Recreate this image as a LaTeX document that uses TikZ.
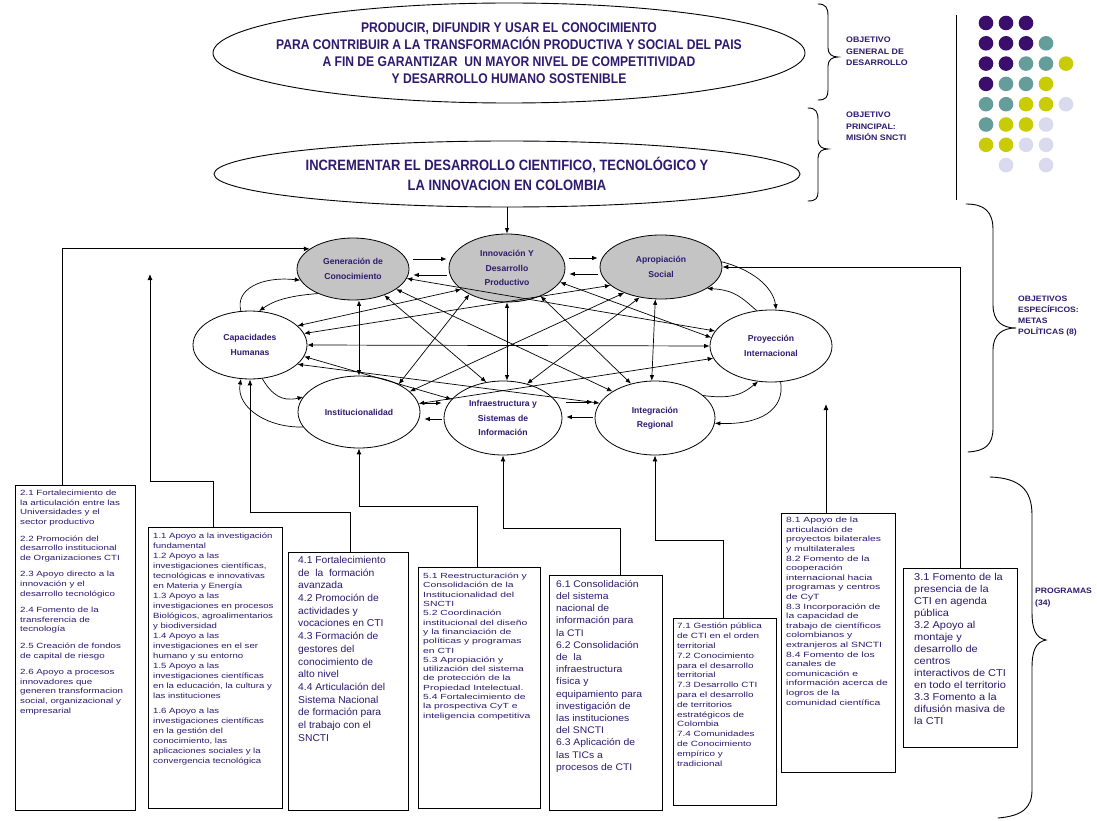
\documentclass[tikz,border=0pt]{standalone}
\usepackage{fontspec}
\setmainfont{Liberation Sans}
\newfontfamily\goalfont[FakeStretch=0.865]{Liberation Sans}
\usetikzlibrary{shapes.geometric,arrows.meta,calc,backgrounds}
\definecolor{ink}{HTML}{2E1A6E}
\definecolor{nodegrey}{HTML}{C4C4C4}
\definecolor{arrowgrey}{HTML}{B5B5B5}
\definecolor{dotpurple}{HTML}{3A0E6A}
\definecolor{dotteal}{HTML}{659D9B}
\definecolor{dotyellow}{HTML}{C9CB04}
\definecolor{dotlav}{HTML}{DADAEE}
% size, leading, horizontal stretch of a programme list
\newcommand{\progfont}[3]{\fontsize{#1}{#2}\selectfont\addfontfeatures{FakeStretch=#3}}
% grey block arrows: x, tip y, base y
\newcommand{\upblock}[3]{\draw[blockarrow] (#1-7,#3) -- (#1-7,#2+13) -- (#1-12,#2+13) -- (#1,#2) -- (#1+12,#2+13) -- (#1+7,#2+13) -- (#1+7,#3) -- cycle;}
\newcommand{\downblock}[3]{\draw[blockarrow] (#1-7,#3) -- (#1-7,#2-13) -- (#1-12,#2-13) -- (#1,#2) -- (#1+12,#2-13) -- (#1+7,#2-13) -- (#1+7,#3) -- cycle;}
\begin{document}
\begin{tikzpicture}[x=1pt,y=-1pt,
  goal/.style={ellipse, draw, line width=0.9pt, fill=white, inner sep=0pt},
  goaltext/.style={text=ink, align=center, inner sep=0pt, font=\goalfont\bfseries\fontsize{14}{16.8}\selectfont},
  area/.style={ellipse, draw, line width=0.8pt, fill=white, inner sep=0pt},
  core/.style={area, fill=nodegrey},
  areatext/.style={text=ink, align=center, inner sep=0pt, font=\bfseries\fontsize{8.6}{14.3}\selectfont},
  prog/.style={draw, line width=1.1pt, fill=white, anchor=north west, inner sep=0pt},
  progtext/.style={anchor=north west, text=ink, align=left, inner sep=0pt},
  tip/.style={-{Latex[length=5.5pt,width=4.5pt]}, line width=0.7pt},
  both/.style={{Latex[length=5.5pt,width=4.5pt]}-{Latex[length=5.5pt,width=4.5pt]}, line width=0.7pt},
  feed/.style={-{Latex[length=6pt,width=5pt]}, line width=0.9pt},
  tag/.style={anchor=north west, text=ink, align=left, inner sep=0pt, font=\bfseries\fontsize{8}{11.3}\selectfont\addfontfeatures{FakeStretch=1.1}},
  blob/.style={circle, inner sep=0pt, minimum size=14.6pt},
  blockarrow/.style={fill=arrowgrey, draw=black!80, line width=0.7pt},
  brace/.style={line width=0.9pt, line cap=round}]

\fill[white] (0,0) rectangle (1097,821);
\useasboundingbox (0,0) rectangle (1097,821);

% ---------- goals ----------
\node[goal, minimum width=592pt, minimum height=100pt] (goal1) at (509,53) {};
\node[goaltext] at (goal1) {PRODUCIR, DIFUNDIR Y USAR EL CONOCIMIENTO\\
PARA CONTRIBUIR A LA TRANSFORMACIÓN PRODUCTIVA Y SOCIAL DEL PAIS\\
A FIN DE GARANTIZAR\ \ UN MAYOR NIVEL DE COMPETITIVIDAD\\
Y DESARROLLO HUMANO SOSTENIBLE};
\node[goal, minimum width=586pt, minimum height=66pt] (goal2) at (507,174) {};
\node[goaltext, font=\goalfont\bfseries\fontsize{15}{20.5}\selectfont] at (goal2) {INCREMENTAR EL DESARROLLO CIENTIFICO, TECNOLÓGICO Y\\
LA INNOVACION EN COLOMBIA};

% ---------- the eight policy areas ----------
\node[core, minimum width=112pt, minimum height=62pt] (gen) at (353,269) {};
\node[areatext] at (gen) {Generación de\\Conocimiento};
\node[core, minimum width=116pt, minimum height=68pt] (inn) at (507,268) {};
\node[areatext] at (inn) {Innovación Y\\Desarrollo\\Productivo};
\node[core, minimum width=122pt, minimum height=64pt] (apr) at (661,267) {};
\node[areatext] at (apr) {Apropiación\\Social};
\node[area, minimum width=114pt, minimum height=68pt] (cap) at (250,345) {};
\node[areatext] at (cap) {Capacidades\\Humanas};
\node[area, minimum width=122pt, minimum height=72pt] (proy) at (771,346) {};
\node[areatext] at (proy) {Proyección\\Internacional};
\node[area, minimum width=122pt, minimum height=72pt] (inst) at (359,412) {};
\node[areatext] at (inst) {Institucionalidad};
\node[area, minimum width=118pt, minimum height=74pt] (infra) at (503,418) {};
\node[areatext] at (infra) {Infraestructura y\\Sistemas de\\Información};
\node[area, minimum width=120pt, minimum height=74pt] (int) at (655,418) {};
\node[areatext] at (int) {Integración\\Regional};

% ---------- block arrows between the goals ----------
\begin{scope}[on background layer]
  \upblock{457}{103}{150}
  \downblock{543}{141}{96}
  \upblock{457}{207}{262}
  \downblock{543}{240}{200}
\end{scope}
\draw[tip] (goal2.south) -- (inn.north);

% ---------- neighbour pairs ----------
\draw[tip, shorten <=4pt, shorten >=2pt] (gen.east |- 0,259) -- (inn.west |- 0,259);
\draw[tip, shorten <=2pt, shorten >=4pt] (inn.west |- 0,275) -- (gen.east |- 0,275);
\draw[tip, shorten <=4pt, shorten >=2pt] (inn.east |- 0,258) -- (apr.west |- 0,258);
\draw[tip, shorten <=2pt, shorten >=4pt] (apr.west |- 0,274) -- (inn.east |- 0,274);
\draw[tip, shorten <=4pt, shorten >=2pt] (inst.east |- 0,403) -- (infra.west |- 0,403);
\draw[tip, shorten <=2pt, shorten >=4pt] (infra.west |- 0,419) -- (inst.east |- 0,419);
\draw[tip, shorten <=4pt, shorten >=2pt] (infra.east |- 0,402) -- (int.west |- 0,402);
\draw[tip, shorten <=2pt, shorten >=4pt] (int.west |- 0,417) -- (infra.east |- 0,417);

% side loops
\draw[tip] (cap.105) .. controls (235,290) and (260,276) .. (gen.192);
\draw[tip] (gen.215) .. controls (285,296) and (272,302) .. (cap.75);
\draw[tip] (cap.-70) .. controls (272,395) and (282,402) .. (inst.165);
\draw[tip] (inst.195) .. controls (268,428) and (236,408) .. (cap.-105);
\draw[tip] (apr.5) .. controls (760,272) and (774,292) .. (proy.82);
\draw[tip] (proy.112) .. controls (742,298) and (735,290) .. (apr.-25);
\draw[tip] (int.25) .. controls (735,400) and (745,392) .. (proy.-110);
\draw[tip] (proy.-75) .. controls (785,410) and (760,425) .. (int.-5);

% cross links
\draw[both] (cap.22) -- (inn.205);
\draw[both] (cap.12) -- (apr.200);
\draw[both] (cap.east) -- (proy.west);
\draw[both] (cap.-12) -- (infra.160);
\draw[both] (cap.-22) -- (int.165);
\draw[both] (inst.north |- gen.south) -- (inst.north);
\draw[both] (gen.-40) -- (infra.115);
\draw[both] (gen.-25) -- (int.148);
\draw[both] (gen.-10) -- (proy.165);
\draw[both] (inn.-145) -- (inst.35);
\draw[both] (inn.south) -- (infra.north -| inn.south);
\draw[both] (inn.-40) -- (int.125);
\draw[both] (inn.-15) -- (proy.172);
\draw[both] (apr.-145) -- (inst.22);
\draw[both] (apr.-125) -- (infra.55);
\draw[both] (apr.-100) -- (int.95);
\draw[both] (inst.8) -- (proy.192);

% ---------- programme boxes ----------
\node[prog, minimum width=120pt, minimum height=325pt] (b2) at (15,485) {};
\node[progtext, font=\progfont{7.5}{9.6}{1.3}] at (20,490) {2.1 Fortalecimiento de\\la articulación entre las\\Universidades y el\\sector productivo\\[7pt]
2.2 Promoción del\\desarrollo institucional\\de Organizaciones CTI\\[7pt]
2.3 Apoyo directo a la\\innovación y el\\desarrollo tecnológico\\[7pt]
2.4 Fomento de la\\transferencia de\\tecnología\\[7pt]
2.5 Creación de fondos\\de capital de riesgo\\[7pt]
2.6 Apoyo a procesos\\innovadores que\\generen transformacion\\social, organizacional y\\empresarial};

\node[prog, minimum width=134pt, minimum height=281pt] (b1) at (148,527) {};
\node[progtext, font=\progfont{7.6}{10}{1.26}] at (153,533) {1.1 Apoyo a la investigación\\fundamental\\1.2 Apoyo a las\\investigaciones científicas,\\tecnológicas e innovativas\\en Materia y Energía\\
1.3 Apoyo a las\\investigaciones en procesos\\Biológicos, agroalimentarios\\y biodiversidad\\1.4 Apoyo a las\\investigaciones en el ser\\humano y su entorno\\
1.5 Apoyo a las\\investigaciones científicas\\en la educación, la cultura y\\las instituciones\\[5pt]
1.6 Apoyo a las\\investigaciones científicas\\en la gestión del\\conocimiento, las\\aplicaciones sociales y la\\convergencia tecnológica};

\node[prog, minimum width=120pt, minimum height=258pt] (b4) at (288,552) {};
\node[progtext, font=\progfont{10}{12.7}{1.03}] at (298,556) {4.1 Fortalecimiento\\de\ \ la\ \ formación\\avanzada\\4.2 Promoción de\\actividades y\\vocaciones en CTI\\
4.3 Formación de\\gestores del\\conocimiento de\\alto nivel\\4.4 Articulación del\\Sistema Nacional\\de formación para\\el trabajo con el\\SNCTI};

\node[prog, minimum width=122pt, minimum height=241pt] (b5) at (418,567) {};
\node[progtext, font=\progfont{7.4}{9.3}{1.4}] at (423,573) {5.1 Reestructuración y\\Consolidación de la\\Institucionalidad del\\SNCTI\\5.2 Coordinación\\institucional del diseño\\y la financiación de\\
políticas y programas\\en CTI\\5.3 Apropiación y\\utilización del sistema\\de protección de la\\Propiedad Intelectual.\\5.4 Fortalecimiento de\\la prospectiva CyT e\\inteligencia competitiva};

\node[prog, minimum width=113pt, minimum height=235pt] (b6) at (549,575) {};
\node[progtext, font=\progfont{9.6}{12.2}{1.08}] at (556,580) {6.1 Consolidación\\del sistema\\nacional de\\información para\\la CTI\\6.2 Consolidación\\de\ \ la\\infraestructura\\
física y\\equipamiento para\\investigación de\\las instituciones\\del SNCTI\\6.3 Aplicación de\\las TICs a\\procesos de CTI};

\node[prog, minimum width=103pt, minimum height=187pt] (b7) at (673,618) {};
\node[progtext, font=\progfont{7.6}{9.8}{1.3}] at (677,623) {7.1 Gestión pública\\de CTI en el orden\\territorial\\7.2 Conocimiento\\para el desarrollo\\territorial\\7.3 Desarrollo CTI\\para el desarrollo\\
de territorios\\estratégicos de\\Colombia\\7.4 Comunidades\\de Conocimiento\\empírico y\\tradicional};

\node[prog, minimum width=114pt, minimum height=259pt] (b8) at (781,513) {};
\node[progtext, font=\progfont{7.6}{9.6}{1.36}] at (786,517) {8.1 Apoyo de la\\articulación de\\proyectos bilaterales\\y multilaterales\\8.2 Fomento de la\\cooperación\\internacional hacia\\programas y centros\\de CyT\\
8.3 Incorporación de\\la capacidad de\\trabajo de científicos\\colombianos y\\extranjeros al SNCTI\\8.4 Fomento de los\\canales de\\comunicación e\\información acerca de\\logros de la\\comunidad científica};

\node[prog, minimum width=114pt, minimum height=179pt] (b3) at (903,568) {};
\node[progtext, font=\progfont{10}{12}{1.1}] at (914,573) {3.1 Fomento de la\\presencia de la\\CTI en agenda\\pública\\3.2 Apoyo al\\montaje y\\desarrollo de\\centros\\
interactivos de CTI\\en todo el territorio\\3.3 Fomento a la\\difusión masiva de\\la CTI};

% ---------- programme feeds ----------
\coordinate (j1) at (150,274);
\draw[feed] (b2.north -| 62,0) |- (gen.155);
\draw[feed] (b1.north -| 213,0) -- (213,481) -| (j1);
\draw[feed] (b4.north -| 350,0) -- (350,512) -| (cap.south);
\draw[feed] (b5.north -| 477,0) -- (477,506) -| (inst.south);
\draw[feed] (b6.north -| 620,0) -- (620,528) -| (infra.south);
\draw[feed] (b7.north -| 723,0) -- (723,540) -| (int.south);
\coordinate (p8) at (826,404);
\draw[feed] (b8.north -| 826,0) -- (p8);
\draw[feed] (b3.north -| 960,0) |- (apr.east);

% ---------- braces and captions ----------
\draw[brace] (818,4) .. controls (826,4) and (828,8) .. (828,16) -- (828,48)
  .. controls (828,54) and (832,57) .. (838,57) .. controls (832,57) and (828,60) .. (828,66)
  -- (828,90) .. controls (828,97) and (826,100) .. (818,100);
\draw[brace] (808,108) .. controls (816,108) and (818,112) .. (818,120) -- (818,140)
  .. controls (818,146) and (822,149) .. (828,149) .. controls (822,149) and (818,152) .. (818,158)
  -- (818,192) .. controls (818,198) and (816,201) .. (808,201);
\draw[brace] (966,204) .. controls (985,204) and (993,212) .. (993,230) -- (993,305)
  .. controls (993,322) and (1003,328) .. (1016,328) .. controls (1003,328) and (993,334) .. (993,350)
  -- (993,428) .. controls (993,445) and (985,451) .. (968,452);
\draw[brace] (990,477) .. controls (1020,478) and (1032,490) .. (1032,515) -- (1032,612)
  .. controls (1032,630) and (1036,638) .. (1046,640) .. controls (1036,642) and (1032,650) .. (1032,668)
  -- (1032,790) .. controls (1032,808) and (1022,816) .. (998,818);
\draw[line width=1pt] (956,15) -- (956,200);

\node[tag] (t1) at (846,37) {OBJETIVO\\GENERAL DE\\DESARROLLO};
\node[tag] (t2) at (846,112) {OBJETIVO\\PRINCIPAL:\\MISIÓN SNCTI};
\node[tag, font=\bfseries\fontsize{7.8}{10.8}\selectfont\addfontfeatures{FakeStretch=1.1}] (t3) at (1018,296) {OBJETIVOS\\ESPECÍFICOS:\\METAS\\POLÍTICAS (8)};
\node[tag, font=\bfseries\fontsize{7.8}{11.5}\selectfont\addfontfeatures{FakeStretch=1.1}] (t4) at (1035,588) {PROGRAMAS\\(34)};

% ---------- colour dots ----------
\foreach \r/\c/\col in {0/0/dotpurple,0/1/dotpurple,0/2/dotpurple,
  1/0/dotpurple,1/1/dotpurple,1/2/dotpurple,1/3/dotteal,
  2/0/dotpurple,2/1/dotpurple,2/2/dotteal,2/3/dotteal,2/4/dotyellow,
  3/0/dotpurple,3/1/dotteal,3/2/dotteal,3/3/dotyellow,
  4/0/dotteal,4/1/dotteal,4/2/dotyellow,4/3/dotyellow,4/4/dotlav,
  5/0/dotteal,5/1/dotyellow,5/2/dotyellow,5/3/dotlav,
  6/0/dotyellow,6/1/dotyellow,6/2/dotlav,6/3/dotlav,
  7/1/dotlav,7/3/dotlav}
  \node[blob, fill=\col] (dot\r\c) at (986+20*\c,23+20.3*\r) {};

\end{tikzpicture}
\end{document}
